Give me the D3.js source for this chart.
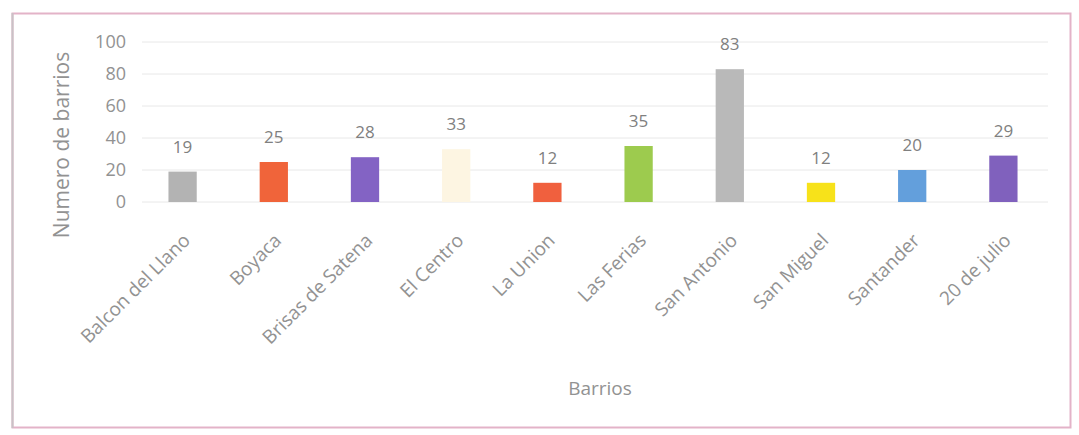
<!DOCTYPE html>
<html>
<head>
<meta charset="utf-8">
<script src="https://cdn.jsdelivr.net/npm/d3@7"></script>
<style>
  html, body { margin: 0; padding: 0; background: #fff; }
  svg { display: block; font-family: "Open Sans", "Liberation Sans", sans-serif; }
</style>
</head>
<body>
<div id="chart"></div>
<script>
const barrios = ["Balcon del Llano", "Boyaca", "Brisas de Satena", "El Centro", "La Union",
                 "Las Ferias", "San Antonio", "San Miguel", "Santander", "20 de julio"];
const valores = [19, 25, 28, 33, 12, 35, 83, 12, 20, 29];
const colores = ["#b3b3b3", "#f0643a", "#8363c4", "#fdf5e2", "#f0603e",
                 "#9dcb4e", "#b9b9b9", "#f7e21a", "#639fdc", "#8061bd"];
const yTicks = [0, 20, 40, 60, 80, 100];

(function () {
    const width = 1079, height = 435;
    const textColor = "#929292";

    const svg = d3.select("#chart").append("svg")
        .attr("width", width)
        .attr("height", height);

    // chart frame
    svg.append("rect")
        .attr("x", 12.5).attr("y", 13.5)
        .attr("width", 1058).attr("height", 414)
        .style("fill", "#fff")
        .style("stroke", "#e3b3c8")
        .style("stroke-width", 2);
    svg.append("line")
        .attr("x1", 12.5).attr("y1", 13).attr("x2", 12.5).attr("y2", 428)
        .style("stroke", "#c9c2c6").style("stroke-width", 2);

    const x = d3.scaleBand()
        .domain(barrios)
        .range([137, 1049])
        .paddingInner(0.69)
        .paddingOuter(0.345);

    const y = d3.scaleLinear()
        .domain([0, 100])
        .range([202, 42]);

    // gridlines
    svg.append("g")
        .selectAll("line")
        .data(yTicks)
        .join("line")
        .attr("x1", 142).attr("x2", 1048)
        .attr("y1", d => y(d)).attr("y2", d => y(d))
        .style("stroke", "#e8e8e8")
        .style("stroke-width", 1);

    // y axis labels
    const yAxis = svg.append("g")
        .attr("transform", "translate(126,0)")
        .call(d3.axisLeft(y).tickValues(yTicks).tickSize(0).tickPadding(0));
    yAxis.select(".domain").remove();
    yAxis.selectAll("text")
        .style("font-size", "18px")
        .style("fill", textColor)
        .style("font-family", "'Open Sans', sans-serif");

    // bars
    svg.append("g")
        .selectAll("rect")
        .data(valores)
        .join("rect")
        .attr("x", (d, i) => x(barrios[i]))
        .attr("y", d => y(d))
        .attr("width", x.bandwidth())
        .attr("height", d => y(0) - y(d))
        .style("fill", (d, i) => colores[i]);

    // value labels
    svg.append("g")
        .selectAll("text")
        .data(valores)
        .join("text")
        .attr("x", (d, i) => x(barrios[i]) + x.bandwidth() / 2)
        .attr("y", d => y(d) - 19)
        .attr("text-anchor", "middle")
        .style("font-size", "17px")
        .style("fill", "#808080")
        .text(d => d);

    // x axis labels rotated
    const xAxis = svg.append("g")
        .attr("transform", `translate(0,${y(0)})`)
        .call(d3.axisBottom(x).tickSize(0).tickPadding(0));
    xAxis.select(".domain").remove();
    xAxis.selectAll("text")
        .attr("text-anchor", "end")
        .attr("y", 0)
        .attr("dy", "0.35em")
        .attr("transform", "translate(4,35) rotate(-45)")
        .style("font-size", "19px")
        .style("fill", textColor)
        .style("font-family", "'Open Sans', sans-serif");

    // axis titles
    svg.append("text")
        .attr("transform", "translate(69,145) rotate(-90)")
        .attr("text-anchor", "middle")
        .style("font-size", "21px")
        .style("fill", textColor)
        .text("Numero de barrios");

    svg.append("text")
        .attr("x", 600).attr("y", 395)
        .attr("text-anchor", "middle")
        .style("font-size", "19px")
        .style("fill", textColor)
        .text("Barrios");
})();
</script>
</body>
</html>
